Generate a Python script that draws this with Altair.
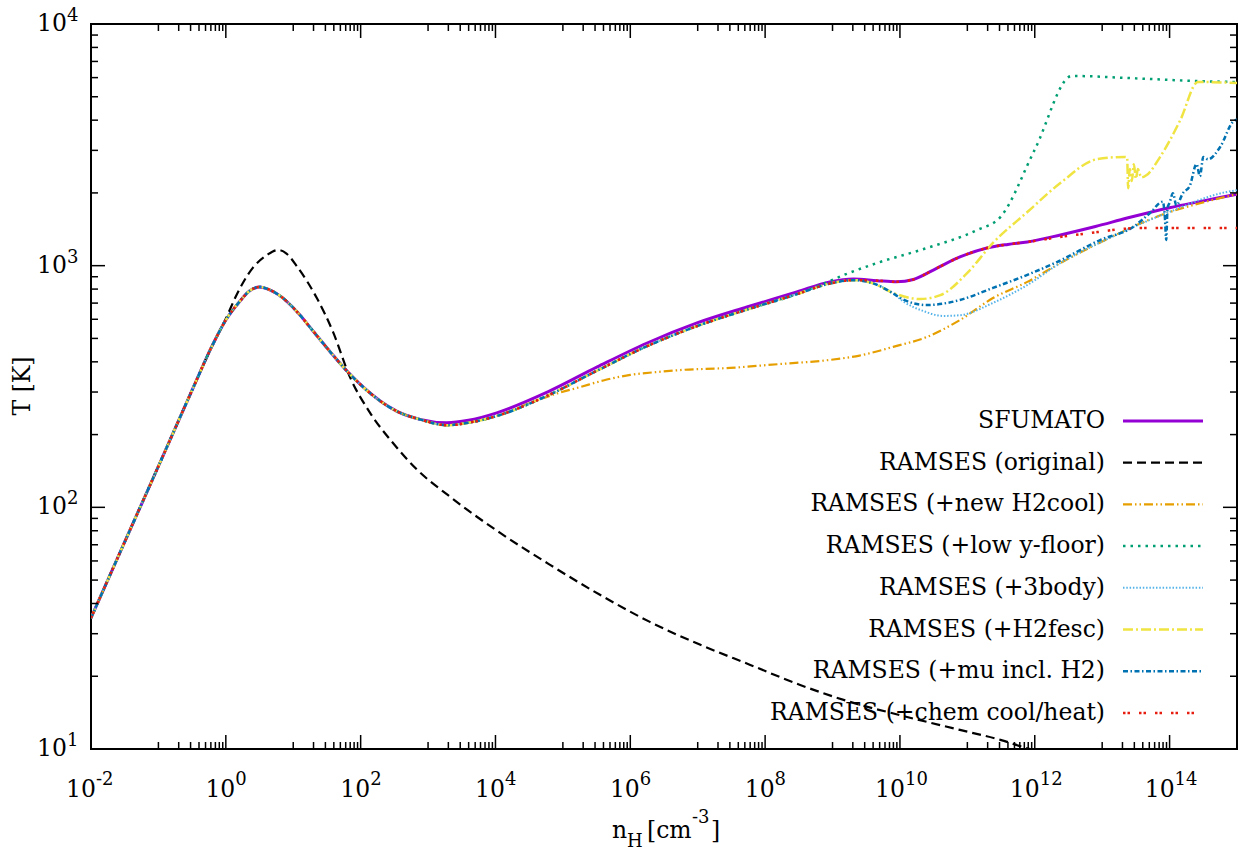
import altair as alt
import pandas as pd

# ---------------- data (log10 n_H , log10 T) ----------------
PRE_LN = [-2.0, -1.5, -1.0, -0.5, -0.2, 0.0, 0.2, 0.35, 0.5, 0.65, 0.8, 1.06, 1.29, 1.55,
          1.8, 2.04, 2.29, 2.54, 2.88]
PRE_LT = [1.542, 1.857, 2.17, 2.485, 2.67, 2.775, 2.85, 2.895, 2.912, 2.90, 2.876, 2.808,
          2.731, 2.643, 2.563, 2.497, 2.440, 2.397, 2.364]

RM_LN = [3.28, 3.6, 4.02, 4.77, 5.51, 6.25, 6.99, 7.73, 8.47, 8.96, 9.31]
RM_LT = [2.340, 2.350, 2.378, 2.462, 2.566, 2.667, 2.750, 2.818, 2.882, 2.926, 2.940]

SFUMATO_LN = PRE_LN + [3.28, 3.6, 4.02, 4.77, 5.51, 6.25, 6.99, 7.73, 8.47, 8.96, 9.31, 9.66,
                       9.95, 10.2, 10.55, 10.89, 11.29, 11.6, 11.89, 12.38, 12.9, 13.37, 14.0,
                       14.5, 15.0]
SFUMATO_LT = PRE_LT + [2.350, 2.360, 2.391, 2.477, 2.581, 2.68, 2.763, 2.829, 2.891, 2.933,
                       2.945, 2.938, 2.933, 2.943, 2.99, 3.036, 3.073, 3.088, 3.098, 3.127,
                       3.162, 3.197, 3.24, 3.268, 3.296]

ORIGINAL_LN = [-2.0, -1.5, -1.0, -0.5, -0.2, 0.0, 0.137, 0.4, 0.61, 0.775, 0.9, 1.06, 1.35,
               1.59, 1.84, 2.14, 2.48, 2.84, 3.33, 4.07, 4.81, 5.55, 6.29, 7.04, 7.78, 8.52,
               9.26, 10.0, 10.89, 11.49, 11.93, 12.3]
ORIGINAL_LT = [1.542, 1.857, 2.17, 2.485, 2.67, 2.78, 2.866, 2.991, 3.044, 3.065, 3.05, 2.995,
               2.866, 2.726, 2.54, 2.391, 2.266, 2.155, 2.043, 1.894, 1.762, 1.638, 1.526,
               1.431, 1.348, 1.265, 1.195, 1.14, 1.079, 1.038, 1.0, 0.98]

H2COOL_LN = PRE_LN + [3.28, 3.6, 4.02, 4.51, 4.9, 5.26, 5.6, 6.0, 6.4, 6.74, 7.48, 8.22, 8.96,
                      9.4, 9.9, 10.4, 10.89, 11.38, 11.89, 12.38, 13.0, 13.96, 14.5, 15.0]
H2COOL_LT = PRE_LT + [2.340, 2.350, 2.378, 2.432, 2.47, 2.498, 2.525, 2.548, 2.56, 2.568,
                      2.577, 2.593, 2.61, 2.628, 2.664, 2.705, 2.775, 2.866, 2.933, 3.011,
                      3.10, 3.218, 3.262, 3.296]

LOWY_LN = PRE_LN + [3.28, 3.6, 4.02, 4.77, 5.51, 6.25, 6.99, 7.73, 8.47, 8.75, 9.2, 9.66,
                    10.4, 11.15, 11.49, 12.0, 12.55, 13.5, 14.41, 15.0]
LOWY_LT = PRE_LT + [2.340, 2.350, 2.378, 2.462, 2.566, 2.667, 2.750, 2.818, 2.882, 2.912,
                    2.965, 3.011, 3.073, 3.148, 3.201, 3.48, 3.785, 3.775, 3.764, 3.760]

BODY3_LN = PRE_LN + RM_LN + [9.6, 9.9, 10.05, 10.35, 10.64, 10.89, 11.38, 11.89, 12.38, 13.0,
                             13.96, 14.85, 15.0]
BODY3_LT = PRE_LT + RM_LT + [2.927, 2.885, 2.852, 2.812, 2.792, 2.795, 2.846, 2.92, 3.011,
                             3.10, 3.218, 3.305, 3.312]

FESC_LN = PRE_LN + RM_LN + [9.6, 9.9, 10.3, 10.6, 11.0, 11.38, 11.89, 12.38, 12.93, 13.34,
                            13.37, 13.385, 13.41, 13.44, 13.47, 13.5, 13.53, 13.58, 13.66,
                            13.86, 14.16, 14.42, 15.0]
FESC_LT = PRE_LT + RM_LT + [2.927, 2.887, 2.862, 2.878, 2.97, 3.094, 3.222, 3.342, 3.441,
                            3.45, 3.448, 3.32, 3.40, 3.35, 3.42, 3.36, 3.40, 3.365, 3.375,
                            3.45, 3.603, 3.76, 3.756]

MU_LN = PRE_LN + RM_LN + [9.6, 9.9, 10.05, 10.4, 10.89, 11.38, 11.89, 12.33, 12.97, 13.46,
                          13.71, 13.9, 13.93, 13.95, 13.97, 14.0, 14.05, 14.1, 14.2, 14.3,
                          14.4, 14.45, 14.5, 14.57, 14.75, 14.94, 15.0]
MU_LT = PRE_LT + RM_LT + [2.927, 2.885, 2.86, 2.837, 2.858, 2.908, 2.962, 3.015, 3.106, 3.16,
                          3.218, 3.265, 3.2, 3.106, 3.24, 3.26, 3.30, 3.25, 3.301, 3.33,
                          3.42, 3.37, 3.45, 3.44, 3.491, 3.595, 3.605]

CHEM_LN = PRE_LN + RM_LN + [9.66, 9.95, 10.2, 10.55, 10.89, 11.29, 11.6, 11.89, 12.38, 12.93,
                            13.3, 13.6, 14.3, 15.0]
CHEM_LT = PRE_LT + RM_LT + [2.938, 2.933, 2.943, 2.99, 3.036, 3.073, 3.088, 3.098, 3.119,
                            3.139, 3.152, 3.156, 3.156, 3.156]

LABELS = ["SFUMATO", "RAMSES (original)", "RAMSES (+new H2cool)", "RAMSES (+low y-floor)",
          "RAMSES (+3body)", "RAMSES (+H2fesc)", "RAMSES (+mu incl. H2)",
          "RAMSES (+chem cool/heat)"]
SERIES_LN = [SFUMATO_LN, ORIGINAL_LN, H2COOL_LN, LOWY_LN, BODY3_LN, FESC_LN, MU_LN, CHEM_LN]
SERIES_LT = [SFUMATO_LT, ORIGINAL_LT, H2COOL_LT, LOWY_LT, BODY3_LT, FESC_LT, MU_LT, CHEM_LT]

X_MAJOR_EXP = ["-2", "0", "2", "4", "6", "8", "10", "12", "14"]
X_MINOR_DECADES = [-1, 1, 3, 5, 7, 9, 11, 13]
Y_MAJOR_EXP = ["1", "2", "3", "4"]
Y_MINOR_DECADES = [1, 2, 3]

# ---------------- styles ----------------
COLORS = ["#9400d3", "#000000", "#e69f00", "#009e73", "#56b4e9", "#f0e442", "#0072b2", "#e51e10"]
DASHES = [None, [9, 5], [9, 3, 1.5, 3, 1.5, 3], [2.5, 5], [1.5, 1.8], [10, 3, 2, 3],
          [5, 2.5, 1.5, 2.5], [2.5, 2, 2.5, 9]]
WIDTHS = [3.0, 2.2, 2.2, 2.5, 2.0, 2.5, 2.5, 2.5]

FONT = "DejaVu Serif"
FS = 23.5
FS_SUP = 18
W, H = 1146, 725

xs = alt.Scale(type="log", domain=[1e-2, 1e15], nice=False)
ys = alt.Scale(type="log", domain=[10, 1e4], nice=False)
one = pd.DataFrame({"a": [0]})

layers = []

# ---------------- legend (drawn first so curves overlay) ----------------
LEG_Y0, LEG_DY = 397, 41.7
for i, lab in enumerate(LABELS):
    yy = LEG_Y0 + i * LEG_DY
    layers.append(
        alt.Chart(pd.DataFrame({"t": [lab]})).mark_text(
            font=FONT, fontSize=FS, align="right", baseline="alphabetic"
        ).encode(x=alt.value(1014), y=alt.value(yy + 7), text="t:N")
    )
    kw = dict(color=COLORS[i], strokeWidth=WIDTHS[i], strokeCap="butt")
    if DASHES[i]:
        kw["strokeDash"] = DASHES[i]
    layers.append(
        alt.Chart(one).mark_rule(**kw).encode(
            x=alt.value(1032), x2=alt.value(1112), y=alt.value(yy)
        )
    )

# ---------------- curves ----------------
for i in range(len(LABELS)):
    ln, lt = SERIES_LN[i], SERIES_LT[i]
    assert len(ln) == len(lt), LABELS[i]
    df = pd.DataFrame({"n": [10 ** v for v in ln], "T": [10 ** v for v in lt]})
    kw = dict(clip=True, interpolate="monotone", color=COLORS[i],
              strokeWidth=WIDTHS[i], strokeCap="butt")
    if DASHES[i]:
        kw["strokeDash"] = DASHES[i]
    layers.append(
        alt.Chart(df).mark_line(**kw).encode(
            x=alt.X("n:Q", scale=xs, axis=None),
            y=alt.Y("T:Q", scale=ys, axis=None),
        )
    )

# ---------------- ticks (inward, mirrored) ----------------
def x_ticks(vals, length):
    base = alt.Chart(pd.DataFrame({"v": vals})).mark_rule(color="black", strokeWidth=1.5)
    xe = alt.X("v:Q", scale=xs, axis=None)
    return [base.encode(x=xe, y=alt.value(H), y2=alt.value(H - length)),
            base.encode(x=xe, y=alt.value(0), y2=alt.value(length))]


def y_ticks(vals, length):
    base = alt.Chart(pd.DataFrame({"v": vals})).mark_rule(color="black", strokeWidth=1.5)
    ye = alt.Y("v:Q", scale=ys, axis=None)
    return [base.encode(y=ye, x=alt.value(0), x2=alt.value(length)),
            base.encode(y=ye, x=alt.value(W), x2=alt.value(W - length))]


x_major_vals = [10.0 ** int(e) for e in X_MAJOR_EXP]
x_minor_vals = [k * 10.0 ** d for d in X_MINOR_DECADES for k in range(1, 10)]
y_major_vals = [10.0 ** int(e) for e in Y_MAJOR_EXP]
y_minor_vals = [k * 10.0 ** d for d in Y_MINOR_DECADES for k in range(2, 10)]

layers += x_ticks(x_major_vals, 14) + x_ticks(x_minor_vals, 7)
layers += y_ticks(y_major_vals, 14) + y_ticks(y_minor_vals, 7)

# ---------------- tick labels 10^e ----------------
xlab = pd.DataFrame({"v": x_major_vals, "e": X_MAJOR_EXP})
for nchar, dx in [(1, 9.5), (2, 5.0)]:
    sub = alt.Chart(xlab).transform_filter(f"length(datum.e) == {nchar}")
    xe = alt.X("v:Q", scale=xs, axis=None)
    layers.append(sub.mark_text(font=FONT, fontSize=FS, align="right", baseline="alphabetic",
                                dx=dx)
                  .encode(x=xe, y=alt.value(H + 48), text=alt.value("10")))
    layers.append(sub.mark_text(font=FONT, fontSize=FS_SUP, align="left", baseline="alphabetic",
                                dx=dx)
                  .encode(x=xe, y=alt.value(H + 36), text="e:N"))

ylab = pd.DataFrame({"v": y_major_vals, "e": Y_MAJOR_EXP})
ye = alt.Y("v:Q", scale=ys, axis=None)
layers.append(alt.Chart(ylab).mark_text(font=FONT, fontSize=FS, align="right",
                                        baseline="alphabetic", dy=7)
              .encode(y=ye, x=alt.value(-24), text=alt.value("10")))
layers.append(alt.Chart(ylab).mark_text(font=FONT, fontSize=FS_SUP, align="left",
                                        baseline="alphabetic", dy=-3)
              .encode(y=ye, x=alt.value(-24), text="e:N"))

# ---------------- axis titles ----------------
layers.append(alt.Chart(one).mark_text(font=FONT, fontSize=FS, angle=270, align="center",
                                       baseline="alphabetic")
              .encode(x=alt.value(-61), y=alt.value(362), text=alt.value("T [K]")))

title_parts = [("n", FS, 521, 814), ("H", FS_SUP, 536, 823), ("[cm", FS, 556, 814),
               ("-3", FS_SUP, 601, 799), ("]", FS, 620, 814)]
for txt, fs, px, py in title_parts:
    layers.append(alt.Chart(one).mark_text(font=FONT, fontSize=fs, align="left",
                                           baseline="alphabetic")
                  .encode(x=alt.value(px), y=alt.value(py), text=alt.value(txt)))

chart = alt.layer(*layers).properties(
    width=W, height=H,
    padding={"left": 91, "top": 24, "right": 3, "bottom": 104},
    autosize=alt.AutoSizeParams(type="none"),
).configure_view(stroke="black", strokeWidth=2)

chart.save("out.html", embed_options={"renderer": "svg", "actions": False})
